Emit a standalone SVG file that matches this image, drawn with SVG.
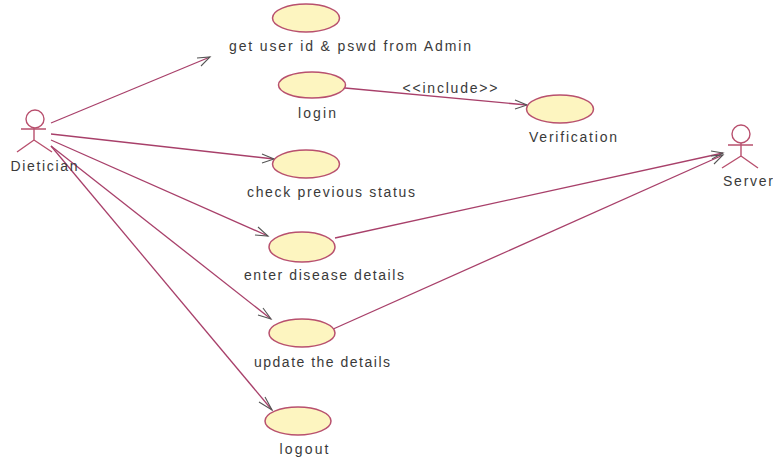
<svg xmlns="http://www.w3.org/2000/svg" width="773" height="460" viewBox="0 0 773 460">
<style>
text{font-family:"Liberation Sans",Arial,sans-serif;font-size:14px;fill:#3a3a3a;text-anchor:middle}
.u{fill:#fdf5c0;stroke:#b8506e;stroke-width:1.5}
.a{fill:none;stroke:#b8506e;stroke-width:1.4}
.c{fill:none;stroke:#a8406a;stroke-width:1.3}
.h{fill:none;stroke:#555;stroke-width:1.1}
</style>
<rect width="773" height="460" fill="#fff"/>
<g id="connectors">
<path class="c" d="M51 123L210 57"/><path class="h" d="M197 58L210 57L201 66"/>
<path class="c" d="M345 88L527 105"/><path class="h" d="M515 100L527 105L515 109"/>
<path class="c" d="M51 134L274 159"/><path class="h" d="M262 154L274 159L262 163"/>
<path class="c" d="M51 140L268 236"/><path class="h" d="M258 227L268 236L255 235"/>
<path class="c" d="M51 146L271 319"/><path class="h" d="M263 308L271 319L258 315"/>
<path class="c" d="M51 146L272 410"/><path class="h" d="M265 397L272 410L259 402"/>
<path class="c" d="M335 238L723 153"/><path class="h" d="M711 151L723 153L712 159"/>
<path class="c" d="M331 330L723 155"/><path class="h" d="M711 156L723 155L714 164"/>
</g>
<g id="dietician"><circle class="a" cx="35" cy="119" r="9"/><path class="a" d="M21 129H46M34 128V140M17 152L34 140L52 152"/><text x="44" y="171" textLength="67">Dietician</text></g>
<g id="server"><circle class="a" cx="741" cy="134" r="9"/><path class="a" d="M728 145H753M741 143V156M722 168L741 156L758 168"/><text x="748" y="186" textLength="50">Server</text></g>
<g id="uc1"><ellipse class="u" cx="306" cy="18" rx="33.500" ry="14"/><text x="350" y="51" textLength="242">get user id &amp; pswd from Admin</text></g>
<g id="uc2"><ellipse class="u" cx="312" cy="85" rx="33.500" ry="13"/><text x="317" y="118" textLength="38">login</text></g>
<g id="uc3"><ellipse class="u" cx="560" cy="109" rx="33.500" ry="14"/><text x="573" y="142" textLength="88">Verification</text></g>
<g id="uc4"><ellipse class="u" cx="306" cy="164" rx="33.500" ry="14"/><text x="331" y="197" textLength="168">check previous status</text></g>
<g id="uc5"><ellipse class="u" cx="302" cy="247" rx="33" ry="15"/><text x="324" y="280" textLength="160">enter disease details</text></g>
<g id="uc6"><ellipse class="u" cx="302" cy="333" rx="33" ry="14"/><text x="322" y="367" textLength="136">update the details</text></g>
<g id="uc7"><ellipse class="u" cx="298" cy="421" rx="33" ry="14"/><text x="304" y="454" textLength="49">logout</text></g>
<text x="450" y="93" textLength="95">&lt;&lt;include&gt;&gt;</text>
</svg>
